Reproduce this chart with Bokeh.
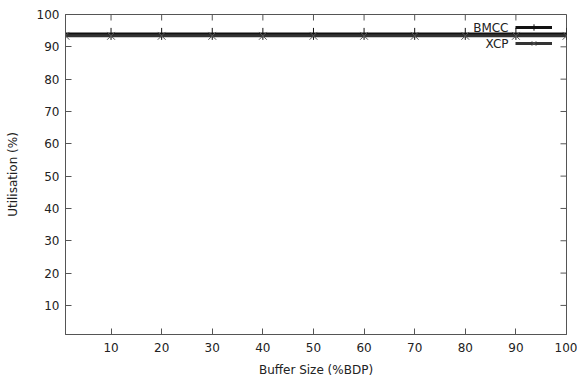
from bokeh.plotting import figure
from bokeh.models import Range1d, FixedTicker, Legend, LegendItem, Label
from bokeh.embed import file_html
from bokeh.resources import INLINE

buffer_size = [1, 10, 20, 30, 40, 50, 60, 70, 80, 90, 100]
bmcc = [94.0, 94.0, 94.0, 94.0, 94.0, 94.0, 94.0, 94.0, 94.0, 94.0, 94.0]
xcp = [93.4, 93.4, 93.4, 93.4, 93.4, 93.4, 93.4, 93.4, 93.4, 93.4, 93.4]
x_ticks = [10, 20, 30, 40, 50, 60, 70, 80, 90, 100]
y_ticks = [10, 20, 30, 40, 50, 60, 70, 80, 90, 100]

FONT = "DejaVu Sans"
FS = "12px"
TXT = "#222222"
AX = "#555555"
X0, X1, Y0, Y1 = 1, 100, 1, 100

p = figure(width=577, height=382, output_backend="svg", toolbar_location=None,
           x_range=Range1d(X0, X1), y_range=Range1d(Y0, Y1),
           min_border_left=65, min_border_right=11, min_border_top=14, min_border_bottom=48,
           x_axis_label="Buffer Size (%BDP)", y_axis_label="Utilisation (%)")
p.grid.visible = False
p.outline_line_color = AX
p.outline_line_width = 1
p.background_fill_color = "white"
p.border_fill_color = "white"

for ax in [p.xaxis[0], p.yaxis[0]]:
    ax.axis_line_color = AX
    ax.major_tick_line_color = AX
    ax.major_tick_in = 6
    ax.major_tick_out = 0
    ax.minor_tick_line_color = None
    ax.major_label_text_font = FONT
    ax.major_label_text_font_size = FS
    ax.major_label_text_color = TXT
    ax.axis_label_text_font = FONT
    ax.axis_label_text_font_size = FS
    ax.axis_label_text_color = TXT
    ax.axis_label_text_font_style = "normal"

p.xaxis[0].ticker = FixedTicker(ticks=x_ticks)
p.yaxis[0].ticker = FixedTicker(ticks=y_ticks)
p.xaxis[0].major_label_standoff = 8
p.xaxis[0].axis_label_standoff = 8
p.yaxis[0].major_label_standoff = 6
p.yaxis[0].axis_label_standoff = 14

# mirrored ticks on top and right border (gnuplot style), 6 px long
frame_w, frame_h = 577 - 65 - 11, 382 - 14 - 48
tx = 6 * (X1 - X0) / frame_w
ty = 6 * (Y1 - Y0) / frame_h
p.segment(x0=x_ticks, x1=x_ticks, y0=[Y1] * len(x_ticks), y1=[Y1 - ty] * len(x_ticks),
          line_color=AX, line_width=1)
p.segment(x0=[X1] * len(y_ticks), x1=[X1 - tx] * len(y_ticks), y0=y_ticks, y1=y_ticks,
          line_color=AX, line_width=1)

l1 = p.line(buffer_size, bmcc, line_color="#111111", line_width=3)
m1 = p.scatter(buffer_size, bmcc, marker="cross", size=12, line_color="#111111", line_width=1)
l2 = p.line(buffer_size, xcp, line_color="#333333", line_width=3)
m2 = p.scatter(buffer_size, xcp, marker="x", size=11, line_color="#555555", line_width=1)

legend = Legend(items=[LegendItem(label=" ", renderers=[l1, m1]),
                       LegendItem(label=" ", renderers=[l2, m2])],
                location=(450, 283), margin=0, padding=0, spacing=0,
                glyph_width=37, glyph_height=16, label_width=0, label_standoff=0,
                label_text_font_size="11px", background_fill_alpha=0, border_line_color=None)
p.add_layout(legend, "center")

for txt, yoff in [("BMCC", 13), ("XCP", 29)]:
    p.add_layout(Label(x=508 - 65, y=frame_h - yoff, x_units="screen", y_units="screen",
                       text=txt, text_align="right", text_baseline="middle",
                       text_font=FONT, text_font_size=FS, text_color=TXT))

open("out.html", "w").write(file_html(p, INLINE))
